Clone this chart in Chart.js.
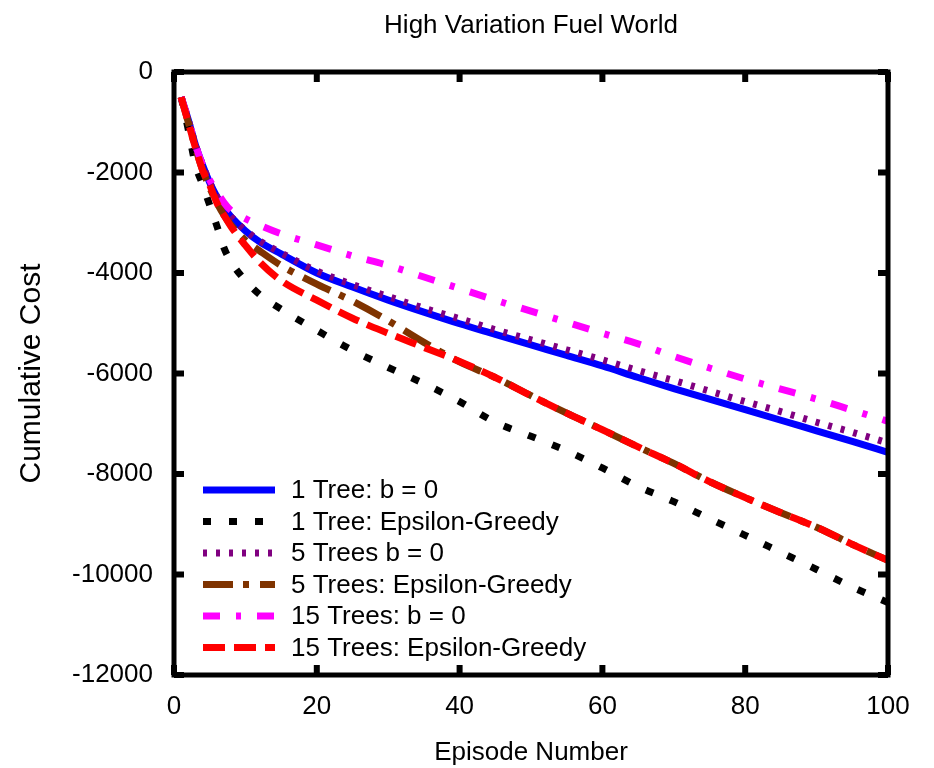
<!DOCTYPE html>
<html>
<head>
<meta charset="utf-8">
<script src="https://cdn.jsdelivr.net/npm/chart.js@4.4.0/dist/chart.umd.min.js"></script>
<style>
  html, body { margin: 0; padding: 0; background: #ffffff; }
  #wrap { width: 934px; height: 768px; }
</style>
</head>
<body>
<div id="wrap"><canvas id="c" width="934" height="768"></canvas></div>
<script>
const titleText = 'High Variation Fuel World';
const xTitle = 'Episode Number';
const yTitle = 'Cumulative Cost';

const episodes = [1,2,3,4,5,6,7,8,10,12,15,20,25,30,35,40,45,50,55,60,65,70,75,80,85,90,95,100];

const tree1B0 = [-500,-950,-1450,-1850,-2200,-2480,-2700,-2880,-3160,-3380,-3620,-4000,-4280,-4540,-4780,-5010,-5220,-5430,-5640,-5850,-6080,-6300,-6510,-6720,-6930,-7140,-7350,-7570];
const tree1Eps = [-500,-1150,-1850,-2240,-2650,-3060,-3500,-3780,-4150,-4430,-4720,-5140,-5540,-5880,-6200,-6560,-6970,-7250,-7540,-7880,-8250,-8550,-8890,-9220,-9560,-9900,-10250,-10560];
const trees5B0 = [-500,-950,-1450,-1850,-2200,-2480,-2700,-2880,-3150,-3360,-3600,-3960,-4230,-4470,-4700,-4910,-5130,-5330,-5530,-5730,-5940,-6140,-6350,-6560,-6760,-6970,-7170,-7380];
const trees5Eps = [-500,-1000,-1500,-1950,-2300,-2600,-2850,-3050,-3350,-3560,-3850,-4220,-4560,-4950,-5380,-5770,-6080,-6440,-6790,-7120,-7460,-7790,-8150,-8470,-8770,-9060,-9400,-9720];
const trees15B0 = [-500,-950,-1450,-1850,-2150,-2380,-2600,-2760,-2920,-3050,-3220,-3440,-3660,-3850,-4080,-4310,-4540,-4760,-4980,-5200,-5410,-5660,-5890,-6110,-6310,-6510,-6730,-6950];
const trees15Eps = [-500,-1000,-1500,-1950,-2250,-2600,-2850,-3080,-3450,-3780,-4150,-4540,-4900,-5200,-5480,-5760,-6080,-6440,-6790,-7120,-7460,-7790,-8150,-8470,-8770,-9060,-9400,-9720];

const seriesLabels = ['1 Tree: b = 0','1 Tree: Epsilon-Greedy','5 Trees b = 0','5 Trees: Epsilon-Greedy','15 Trees: b = 0','15 Trees: Epsilon-Greedy'];
const seriesValues = [tree1B0, tree1Eps, trees5B0, trees5Eps, trees15B0, trees15Eps];
const seriesColors = ['#0000ff','#000000','#800080','#7f3300','#ff00ff','#ff0000'];
const seriesDash = [[], [8,18], [4,9], [30,10,6,11], [17,16,5,16], [22,9]];

const xTicks = [0,20,40,60,80,100];
const yTicks = [0,-2000,-4000,-6000,-8000,-10000,-12000];

const FONT = "'Liberation Sans', Arial, Helvetica, sans-serif";

const datasets = seriesLabels.map((lab, i) => ({
  label: lab,
  data: episodes.map((e, k) => ({x: e, y: seriesValues[i][k]})),
  borderColor: seriesColors[i],
  backgroundColor: seriesColors[i],
  borderWidth: 7,
  borderDash: seriesDash[i],
  borderCapStyle: 'butt',
  borderJoinStyle: 'miter',
  pointRadius: 0,
  fill: false,
  cubicInterpolationMode: 'monotone',
  order: seriesLabels.length - i
}));

const frame = {
  id: 'frame',
  afterDatasetsDraw(chart) {
    const {ctx, chartArea: a, scales} = chart;
    ctx.save();
    // legend inside plot
    const lx0 = 203, lx1 = 275, tx = 291, y0 = 490, dy = 31.5;
    ctx.font = '26px ' + FONT;
    ctx.textBaseline = 'middle';
    ctx.textAlign = 'left';
    chart.data.datasets.forEach((d, i) => {
      const y = y0 + i * dy;
      ctx.strokeStyle = d.borderColor;
      ctx.lineWidth = d.borderWidth;
      ctx.lineCap = 'butt';
      ctx.setLineDash(d.borderDash);
      ctx.beginPath(); ctx.moveTo(lx0, y); ctx.lineTo(lx1, y); ctx.stroke();
      ctx.setLineDash([]);
      ctx.fillStyle = '#000';
      ctx.fillText(d.label, tx, y + 1);
    });
    // border
    ctx.strokeStyle = '#000';
    ctx.lineWidth = 5;
    ctx.setLineDash([]);
    ctx.strokeRect(a.left, a.top, a.right - a.left, a.bottom - a.top);
    // inward ticks (mirrored)
    ctx.lineWidth = 6;
    const tl = 10;
    xTicks.forEach(v => {
      const px = scales.x.getPixelForValue(v);
      ctx.beginPath();
      ctx.moveTo(px, a.bottom); ctx.lineTo(px, a.bottom - tl);
      ctx.moveTo(px, a.top); ctx.lineTo(px, a.top + tl);
      ctx.stroke();
    });
    yTicks.forEach(v => {
      const py = scales.y.getPixelForValue(v);
      ctx.beginPath();
      ctx.moveTo(a.left, py); ctx.lineTo(a.left + tl, py);
      ctx.moveTo(a.right, py); ctx.lineTo(a.right - tl, py);
      ctx.stroke();
    });
    ctx.restore();
  }
};

new Chart(document.getElementById('c'), {
  type: 'line',
  data: { datasets },
  plugins: [frame],
  options: {
    responsive: false,
    animation: false,
    devicePixelRatio: 1,
    layout: { padding: { left: 0, right: 46, top: 0, bottom: 0 } },
    plugins: {
      legend: { display: false },
      tooltip: { enabled: false },
      title: {
        display: true,
        fullSize: false,
        text: titleText,
        color: '#000',
        font: { family: FONT, size: 26, weight: 'normal' },
        padding: { top: 10, bottom: 30.8 }
      }
    },
    scales: {
      x: {
        type: 'linear',
        min: 0, max: 100,
        grid: { display: false, drawTicks: false },
        border: { display: false },
        afterBuildTicks: s => { s.ticks = xTicks.map(v => ({ value: v })); },
        afterFit: s => { s.height = 93; },
        ticks: {
          color: '#000',
          padding: 16,
          font: { family: FONT, size: 26 },
          callback: v => String(v),
          maxRotation: 0
        },
        title: {
          display: true, text: xTitle, color: '#000',
          font: { family: FONT, size: 26 },
          padding: { top: 0, bottom: 0 }
        }
      },
      y: {
        type: 'linear',
        min: -12000, max: 0,
        grid: { display: false, drawTicks: false },
        border: { display: false },
        afterBuildTicks: s => { s.ticks = yTicks.map(v => ({ value: v })); },
        afterFit: s => { s.width = 174; },
        ticks: {
          color: '#000',
          padding: 21,
          font: { family: FONT, size: 26 },
          callback: v => String(v)
        },
        title: {
          display: true, text: yTitle, color: '#000',
          font: { family: FONT, size: 30 },
          padding: { top: 14, bottom: 0 }
        }
      }
    }
  }
});
</script>
</body>
</html>
